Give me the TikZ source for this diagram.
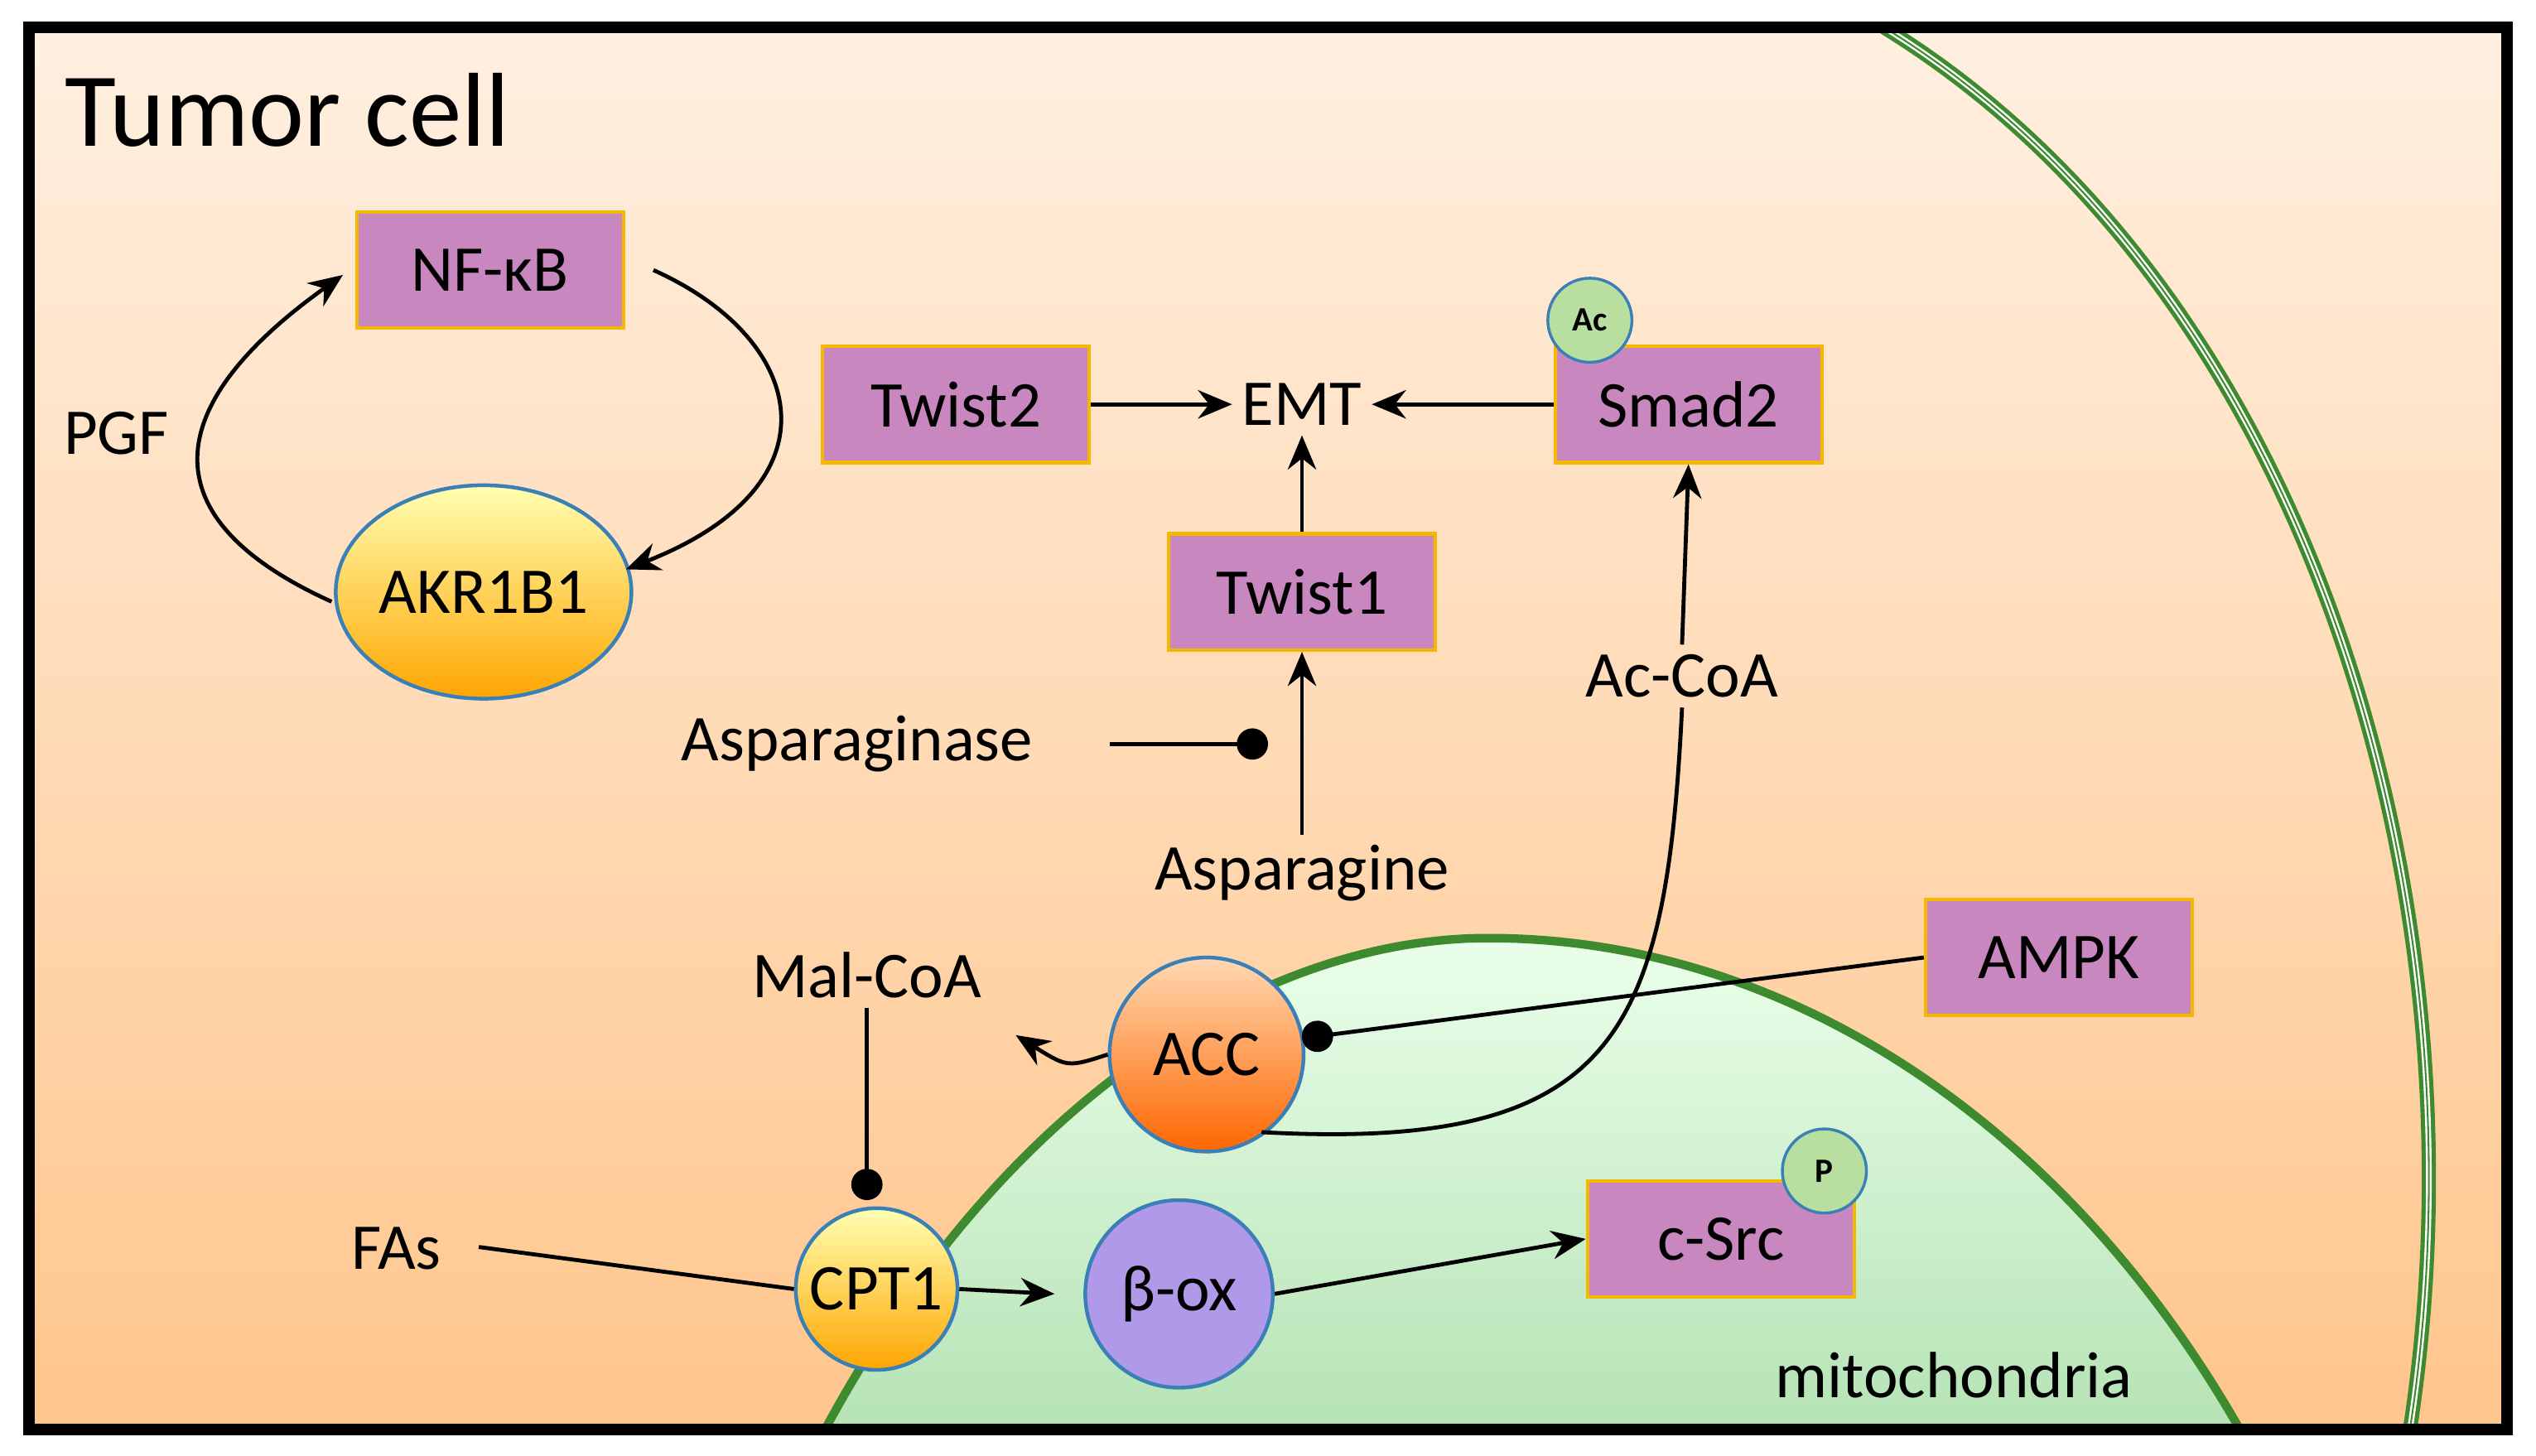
\documentclass[tikz,border=0pt]{standalone}
\usepackage{fontspec}
\setmainfont{Carlito}
\usetikzlibrary{arrows.meta,shapes.geometric}
\definecolor{box}{HTML}{C987C0}
\definecolor{boxb}{HTML}{F5B800}
\definecolor{cb}{HTML}{3A7FB5}
\definecolor{mito}{HTML}{3E8A2E}
\definecolor{modf}{HTML}{B8DFA0}
\begin{document}
\begin{tikzpicture}[x=0.02cm,y=-0.02cm,
 rbox/.style={draw=boxb,line width=1.2pt,fill=box,minimum width=3.3cm,minimum height=1.44cm,font=\fontsize{23}{26}\selectfont},
 lbl/.style={font=\fontsize{23}{26}\selectfont},
 mod/.style={circle,draw=cb,line width=1pt,fill=modf,minimum size=1.04cm,inner sep=0pt,font=\bfseries\fontsize{12}{13}\selectfont},
 arr/.style={-{Stealth[length=12pt,width=10pt]},line width=1.4pt},
 inh/.style={-{Circle[length=11pt]},line width=1.4pt},
 ln/.style={line width=1.4pt}]
\useasboundingbox (0,0) rectangle (1568,900);
\fill[white] (0,0) rectangle (1568,900);
\shade[top color=orange!12!white,bottom color=orange!45!white] (18,17) rectangle (1550,884);
% membrane
\draw[mito,line width=5pt] (1165,17) .. controls (1430,180) and (1540,560) .. (1490,884);
\draw[white,line width=2pt] (1165,17) .. controls (1430,180) and (1540,560) .. (1490,884);
\draw[mito,line width=0.6pt] (1165,17) .. controls (1430,180) and (1540,560) .. (1490,884);
% mitochondria
\shade[top color=green!8!white,bottom color=green!45!gray!40!white,draw=mito,line width=3pt]
 (510,884) .. controls (620,680) and (780,580) .. (920,580) .. controls (1110,580) and (1280,700) .. (1385,884) -- cycle;
\draw[black,line width=4pt] (18,17) rectangle (1550,884);
\node[anchor=west,font=\fontsize{37}{42}\selectfont] (title) at (34,68) {Tumor cell};
% nodes
\node[rbox] (nfkb) at (303,167) {NF-κB};
\node[rbox] (tw2) at (591,250) {Twist2};
\node[rbox] (smad) at (1044,250) {Smad2};
\node[mod] (ac) at (983,198) {Ac};
\node[rbox] (tw1) at (805,366) {Twist1};
\node[rbox] (ampk) at (1273,592) {AMPK};
\node[rbox] (csrc) at (1064,766) {c-Src};
\node[mod] (p) at (1128,724) {P};
\node[ellipse,draw=cb,line width=1.3pt,top color=yellow!30,bottom color=orange!70!yellow,minimum width=3.2cm,minimum height=2.64cm,inner sep=0pt,lbl] (akr) at (299,366) {AKR1B1};
\node[circle,draw=cb,line width=1.3pt,top color=orange!30,bottom color=orange!80!red,minimum size=2.4cm,inner sep=0pt,lbl] (acc) at (746,652) {ACC};
\node[circle,draw=cb,line width=1.3pt,top color=yellow!30,bottom color=orange!70!yellow,minimum size=2cm,inner sep=0pt,lbl] (cpt) at (542,797) {CPT1};
\node[circle,draw=cb,line width=1.3pt,fill=violet!45!blue!40!white,minimum size=2.32cm,inner sep=0pt,lbl] (box) at (729,800) {β-ox};
\node[lbl] (emt) at (805,250) {EMT};
\node[lbl] (pgf) at (72,268) {PGF};
\node[lbl] (asnase) at (530,460) {Asparaginase};
\node[lbl] (asn) at (805,540) {Asparagine};
\node[lbl] (accoa) at (1040,418) {Ac-CoA};
\node[lbl] (malcoa) at (536,603) {Mal-CoA};
\node[lbl] (fas) at (245,772) {FAs};
\node[lbl] (mitol) at (1208,850) {mitochondria};
\coordinate (asstart) at (686,460);
\coordinate (asdot) at (784,460);
\coordinate (ampkdot) at (805,642);
\coordinate (cptdot) at (536,742);
\coordinate (fasend) at (296,771);
% arrows
\draw[arr] (tw2.east) -- (emt.west);
\draw[arr] (smad.west) -- (emt.east);
\draw[arr] (tw1.north) -- (emt.south);
\draw[arr] (asn.north) -- (tw1.south);
\draw[inh] (asstart) -- (asdot);
\draw[arr] (accoa.north) -- (smad.south);
\draw[ln] (780,700) .. controls (1000,712) and (1030,640) .. (accoa.south);
\draw[arr] (acc.west) .. controls (660,660) .. (628,640);
\draw[inh] (ampk.west) -- (ampkdot);
\draw[inh] (malcoa.south) -- (cptdot);
\draw[ln] (fasend) -- (cpt.west);
\draw[arr] (cpt.east) -- (652,800);
\draw[arr] (box.east) -- (csrc.west);
\draw[arr] (404,167) .. controls (500,210) and (520,300) .. (387,352);
\draw[arr] (205,372) .. controls (90,320) and (100,250) .. (212,170);
\end{tikzpicture}
\end{document}
